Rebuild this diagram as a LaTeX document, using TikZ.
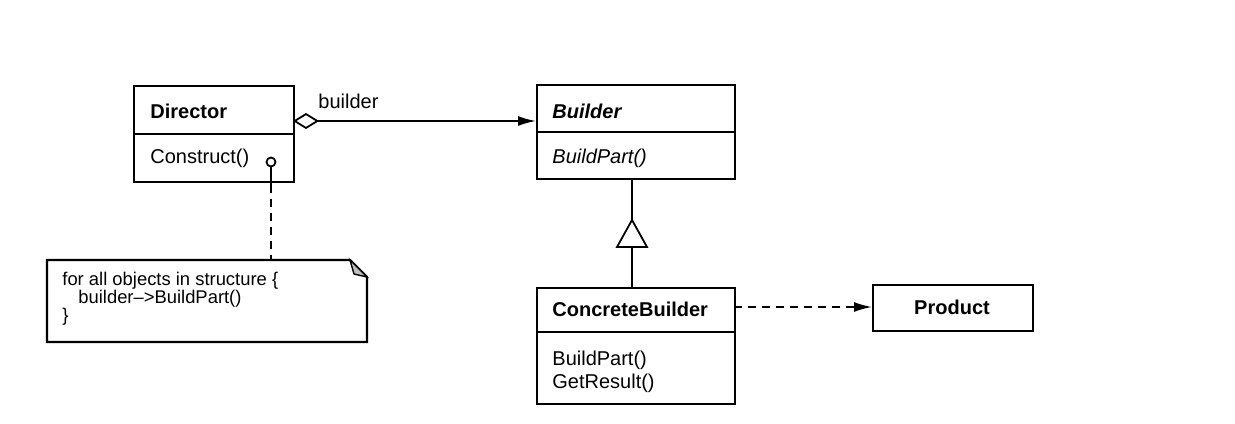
\documentclass[tikz,border=0pt]{standalone}
\usepackage{fontspec}
\setmainfont{Liberation Sans}
\usetikzlibrary{arrows.meta}
\begin{document}
\begin{tikzpicture}[x=0.5pt,y=-0.5pt,
  box/.style={draw,line width=1.1pt,anchor=north west,inner sep=0pt},
  divider/.style={line width=0.9pt},
  lbl/.style={anchor=base west,inner sep=0pt,font=\fontsize{10}{11}\selectfont},
  conn/.style={line width=0.9pt},
  dashconn/.style={line width=0.9pt,dash pattern=on 4pt off 3pt}]
\useasboundingbox (0,0) rectangle (1235,423);
% Director
\node[box,minimum width=80pt,minimum height=48pt] (dir) at (133,85) {};
\draw[divider] (133,134) -- (293,134);
\node[lbl,font=\fontsize{10}{11}\selectfont\bfseries] (dirn) at (150,118) {Director};
\node[lbl] (dirc) at (150,163) {Construct()};
% Builder
\node[box,minimum width=99pt,minimum height=47pt] (bld) at (536,84) {};
\draw[divider] (536,132) -- (734,132);
\node[lbl,font=\fontsize{10}{11}\selectfont\bfseries\itshape] (bldn) at (552,118) {Builder};
\node[lbl,font=\fontsize{10}{11}\selectfont\itshape] (bldp) at (552,163) {BuildPart()};
% ConcreteBuilder
\node[box,minimum width=99pt,minimum height=58pt] (cb) at (536,287) {};
\draw[divider] (536,332) -- (734,332);
\node[lbl,font=\fontsize{10}{11}\selectfont\bfseries] (cbn) at (552,316) {ConcreteBuilder};
\node[lbl] (cbp) at (552,365) {BuildPart()};
\node[lbl] (cbr) at (552,388) {GetResult()};
% Product
\node[box,minimum width=80pt,minimum height=23pt] (prod) at (872,284) {};
\node[anchor=base,inner sep=0pt,font=\fontsize{10}{11}\selectfont\bfseries] (prodn) at (952,314) {Product};
% Note
\draw[line width=1.1pt] (47,260) -- (350,260) -- (367,277) -- (367,342) -- (47,342) -- cycle;
\draw[line width=0.7pt,fill=black!25] (350,260) -- (354,274) -- (367,277) -- cycle;
\coordinate (notetop) at (271,260);
\node[anchor=base west,inner sep=0pt,align=left,font={\fontsize{9.2}{8.8}\selectfont\lineskiplimit=-20pt}] (note) at (62,321)
  {for all objects in structure \{\\\hspace*{8pt}builder-->BuildPart()\\\}};
% builder association
\coordinate (dirR) at (293,121);
\coordinate (bldL) at (536,121);
\draw[conn,{Diamond[open,length=13pt,width=8pt,line width=0.9pt]}-{Latex[length=9pt,width=5pt]}] (dirR) -- (bldL);
\node[lbl] (blab) at (318,108) {builder};
% inheritance
\coordinate (bldB) at (632,178);
\coordinate (cbT) at (632,287);
\coordinate (triA) at (632,220);
\coordinate (triB) at (632,247);
\draw[conn] (bldB) -- (triA);
\draw[conn] (triB) -- (cbT);
\draw[line width=0.9pt] (triA) -- (647,247) -- (617,247) -- cycle;
% dependency
\coordinate (cbR) at (734,307);
\coordinate (prodL) at (872,307);
\draw[dashconn,-{Latex[length=9pt,width=5pt]}] (cbR) -- (prodL);
% lollipop and note link
\node[draw,circle,line width=0.9pt,minimum size=4.5pt,inner sep=0pt] (lol) at (271,162) {};
\draw[conn] (lol.south) -- (271,185);
\draw[dashconn] (271,185) -- (notetop);
\end{tikzpicture}
\end{document}
